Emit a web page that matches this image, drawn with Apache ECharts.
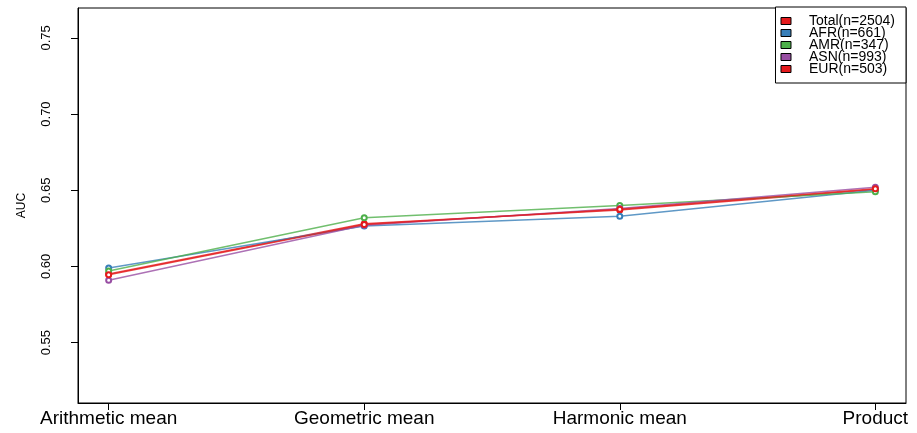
<!DOCTYPE html>
<html>
<head>
<meta charset="utf-8">
<script src="https://cdn.jsdelivr.net/npm/echarts@6/dist/echarts.min.js"></script>
<style>
html,body{margin:0;padding:0;background:#fff;}
#chart{width:917px;height:433px;}
</style>
</head>
<body>
<div id="chart"></div>
<script>
const categories = ["Arithmetic mean", "Geometric mean", "Harmonic mean", "Product"];
const seriesNames = ["Total(n=2504)", "AFR(n=661)", "AMR(n=347)", "ASN(n=993)", "EUR(n=503)"];
const totalValues = [0.595, 0.628, 0.637, 0.6505];
const afrValues   = [0.599, 0.6265, 0.633, 0.650];
const amrValues   = [0.597, 0.632, 0.640, 0.649];
const asnValues   = [0.591, 0.627, 0.638, 0.652];
const eurValues   = [0.5945, 0.6275, 0.6375, 0.651];
const yTicks = [0.55, 0.60, 0.65, 0.70, 0.75];
const xTicks = [1, 2, 3, 4];
const colors = ["#E41A1C", "#377EB8", "#4DAF4A", "#984EA3", "#E41A1C"];

const allValues = [totalValues, afrValues, amrValues, asnValues, eurValues];

const chart = echarts.init(document.getElementById('chart'), null, {renderer: 'canvas'});
const font = '"Liberation Sans", Arial, sans-serif';

const series = seriesNames.map((name, i) => ({
  name: name,
  type: 'line',
  data: allValues[i].map((v, j) => [xTicks[j], v]),
  symbol: 'emptyCircle',
  symbolSize: 5,
  color: colors[i],
  lineStyle: {width: 1.5, color: colors[i], opacity: 0.8},
  itemStyle: {color: colors[i], borderWidth: 1},
  emphasis: {disabled: true},
  animation: false
}));

chart.setOption({
  animation: false,
  backgroundColor: '#fff',
  grid: {left: 78, right: 11, top: 8, bottom: 30, show: true, borderColor: '#000', borderWidth: 1, backgroundColor: 'transparent'},
  legend: {
    data: seriesNames.map((n, i) => ({name: n, itemStyle: {color: colors[i], borderColor: '#000', borderWidth: 1}})),
    orient: 'vertical',
    right: 11,
    top: 7,
    backgroundColor: '#fff',
    borderColor: '#000',
    borderWidth: 1,
    padding: [7, 11, 7, 5],
    itemGap: -2,
    itemWidth: 10,
    itemHeight: 7,
    icon: 'rect',
    selectedMode: false,
    textStyle: {fontFamily: font, fontSize: 14, color: '#000', padding: [0, 0, 0, 13]}
  },
  xAxis: {
    type: 'value',
    min: 0.88,
    max: 4.12,
    splitLine: {show: false},
    axisLine: {show: true, lineStyle: {color: '#000'}},
    axisTick: {show: true, length: 7, lineStyle: {color: '#000'}, customValues: xTicks},
    axisLabel: {
      customValues: xTicks,
      formatter: v => categories[Math.round(v) - 1] || '',
      fontFamily: font, fontSize: 19, color: '#000', margin: 6
    }
  },
  yAxis: {
    type: 'value',
    min: 0.5104,
    max: 0.7696,
    name: 'AUC',
    nameLocation: 'middle',
    nameGap: 50,
    nameTextStyle: {fontFamily: font, fontSize: 12, color: '#000'},
    splitLine: {show: false},
    axisLine: {show: true, lineStyle: {color: '#000'}},
    axisTick: {show: true, length: 7, lineStyle: {color: '#000'}, customValues: yTicks},
    axisLabel: {
      customValues: yTicks,
      formatter: v => v.toFixed(2),
      rotate: 90,
      fontFamily: font, fontSize: 13, color: '#000', margin: 25
    }
  },
  series: series
});
</script>
</body>
</html>
